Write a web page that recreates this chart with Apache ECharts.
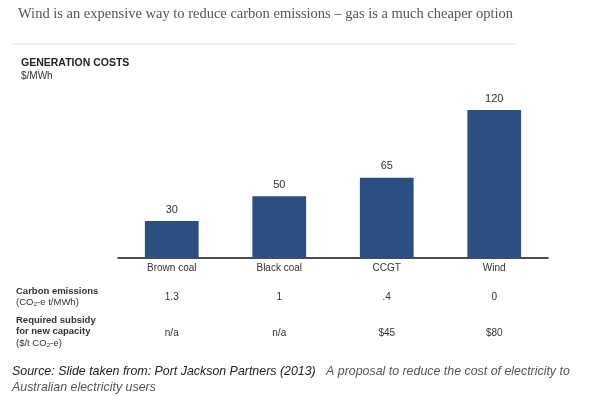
<!DOCTYPE html>
<html>
<head>
<meta charset="utf-8">
<script src="https://cdn.jsdelivr.net/npm/echarts@6/dist/echarts.min.js"></script>
<style>
  html, body { margin: 0; padding: 0; background: #fff; }
  #main { width: 590px; height: 396px; }
</style>
</head>
<body>
<div id="main"></div>
<script>
// generation costs, $/MWh
var categories = ['Brown coal', 'Black coal', 'CCGT', 'Wind'];
var costs = [30, 50, 65, 120];
// table rows under the chart
var emissions = ['1.3', '1', '.4', '0'];
var subsidy = ['n/a', 'n/a', '$45', '$80'];

var chart = echarts.init(document.getElementById('main'));

var sans = 'Liberation Sans, Arial, sans-serif';

function rowAxis(data, offset) {
  return {
    type: 'category',
    data: data,
    position: 'bottom',
    offset: offset,
    axisLine: { show: false },
    axisTick: { show: false },
    axisLabel: { color: '#333', fontSize: 10, fontFamily: sans, margin: 0 }
  };
}

var option = {
  backgroundColor: '#fff',
  animation: false,
  grid: { left: 118, width: 430, top: 73, height: 185 },
  xAxis: [
    {
      type: 'category',
      data: categories,
      axisLine: { lineStyle: { color: '#111', width: 1.5 } },
      axisTick: { show: false },
      axisLabel: { color: '#333', fontSize: 10, fontFamily: sans, margin: 5 }
    },
    rowAxis(emissions, 34),
    rowAxis(subsidy, 70)
  ],
  yAxis: { type: 'value', min: 0, max: 150, show: false },
  series: [{
    type: 'bar',
    data: costs,
    barWidth: '50%',
    itemStyle: { color: '#2c4f82' },
    label: {
      show: true,
      position: 'top',
      distance: 6,
      color: '#333',
      fontSize: 11,
      fontFamily: sans
    }
  }],
  graphic: [
    {
      type: 'text', left: 18, top: 7,
      style: {
        text: 'Wind is an expensive way to reduce carbon emissions \u2013 gas is a much cheaper option',
        fill: '#555', font: '14.5px "Liberation Serif", Georgia, serif'
      }
    },
    {
      type: 'line',
      shape: { x1: 12, y1: 44, x2: 516, y2: 44 },
      style: { stroke: '#e2e2e2', lineWidth: 1 }
    },
    {
      type: 'text', left: 21, top: 58,
      style: { text: 'GENERATION COSTS', fill: '#222', font: 'bold 10.5px ' + sans }
    },
    {
      type: 'text', left: 21, top: 71,
      style: { text: '$/MWh', fill: '#333', font: '10px ' + sans }
    },
    {
      type: 'text', left: 16, top: 286,
      style: {
        text: '{b|Carbon emissions}\n{n|(CO\u2082-e t/MWh)}',
        rich: {
          b: { fontWeight: 'bold', fontSize: 9.5, fontFamily: sans, fill: '#333', lineHeight: 11.5 },
          n: { fontSize: 9.5, fontFamily: sans, fill: '#333', lineHeight: 11.5 }
        }
      }
    },
    {
      type: 'text', left: 16, top: 315,
      style: {
        text: '{b|Required subsidy}\n{b|for new capacity}\n{n|($/t CO\u2082-e)}',
        rich: {
          b: { fontWeight: 'bold', fontSize: 9.5, fontFamily: sans, fill: '#333', lineHeight: 11.5 },
          n: { fontSize: 9.5, fontFamily: sans, fill: '#333', lineHeight: 11.5 }
        }
      }
    },
    {
      type: 'text', left: 12, top: 366,
      style: {
        text: '{a|Source: Slide taken from: Port Jackson Partners (2013)}{b|   A proposal to reduce the cost of electricity to}\n{b|Australian electricity users}',
        rich: {
          a: { fontStyle: 'italic', fontSize: 12.4, fontFamily: sans, fill: '#222', lineHeight: 15.5 },
          b: { fontStyle: 'italic', fontSize: 12.4, fontFamily: sans, fill: '#555', lineHeight: 15.5 }
        }
      }
    }
  ]
};

chart.setOption(option);
</script>
</body>
</html>
